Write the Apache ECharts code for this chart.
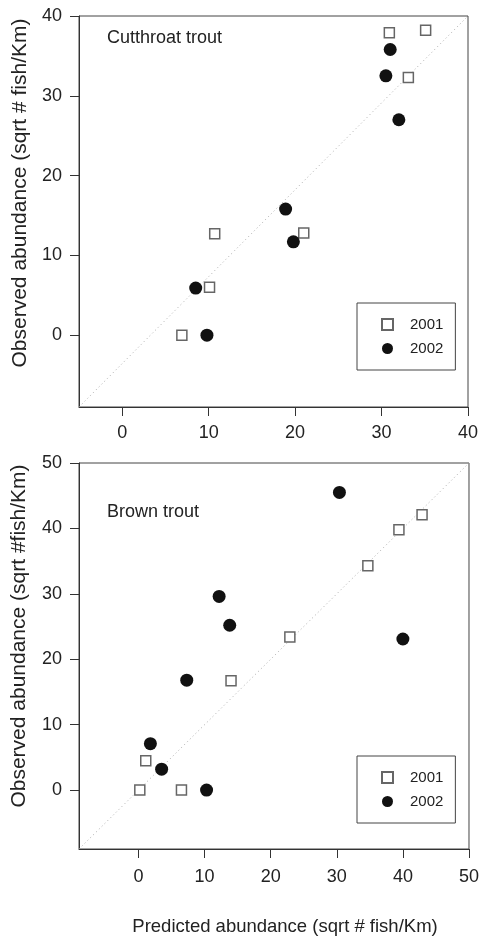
<!DOCTYPE html>
<html>
<head>
<meta charset="utf-8">
<script src="https://cdn.jsdelivr.net/npm/echarts@6/dist/echarts.min.js"></script>
<style>
  html, body { margin: 0; padding: 0; background: #fff; }
  #chart { width: 482px; height: 937px; }
</style>
</head>
<body>
<div id="chart"></div>
<script>
// ---- Data ----
const seriesNames = ['2001', '2002'];

// Cutthroat trout: [predicted, observed]
const cutthroat2001 = [[30.9, 37.9], [35.1, 38.2], [33.1, 32.3], [10.7, 12.7], [21.0, 12.8], [10.1, 6.0], [6.9, 0]];
const cutthroat2002 = [[31.0, 35.8], [30.5, 32.5], [32.0, 27.0], [18.9, 15.8], [19.8, 11.7], [8.5, 5.9], [9.8, 0]];
const cutthroatRef = [[-5, -9], [40, 40]];

// Brown trout: [predicted, observed]
const brown2001 = [[0.2, 0], [1.1, 4.5], [6.5, 0], [14.0, 16.7], [22.9, 23.4], [34.7, 34.3], [39.4, 39.8], [42.9, 42.1]];
const brown2002 = [[1.8, 7.1], [3.5, 3.2], [10.3, 0], [7.3, 16.8], [12.2, 29.6], [13.8, 25.2], [30.4, 45.5], [40.0, 23.1]];
const brownRef = [[-9, -9], [50, 50]];

const topXTicks = [0, 10, 20, 30, 40];
const topYTicks = [0, 10, 20, 30, 40];
const botXTicks = [0, 10, 20, 30, 40, 50];
const botYTicks = [0, 10, 20, 30, 40, 50];

const panelTitles = ['Cutthroat trout', 'Brown trout'];
const yTitles = ['Observed abundance (sqrt # fish/Km)', 'Observed abundance (sqrt #fish/Km)'];
const xTitle = 'Predicted abundance (sqrt # fish/Km)';

// ---- Styling ----
const FONT = '"Liberation Sans", Arial, Helvetica, sans-serif';
const TXT = '#222';
const AX = '#333';

function valAxis(gridIndex, min, max, ticks, margin) {
  return {
    type: 'value', gridIndex, min, max,
    splitLine: { show: false },
    axisLine: { show: true, onZero: false, lineStyle: { color: AX, width: 1 } },
    axisTick: { show: true, inside: false, length: 9, customValues: ticks, lineStyle: { color: AX, width: 1 } },
    axisLabel: { customValues: ticks, fontSize: 18, color: TXT, fontFamily: FONT, margin }
  };
}

const squareStyle = { color: '#fff', borderColor: '#666', borderWidth: 1.5, opacity: 1 };
const circleStyle = { color: '#111', opacity: 1 };

function scatter(name, data, idx, isSquare) {
  return {
    name, type: 'scatter', xAxisIndex: idx, yAxisIndex: idx, data,
    symbol: isSquare ? 'rect' : 'circle',
    symbolSize: isSquare ? 10 : 13,
    itemStyle: isSquare ? squareStyle : circleStyle,
    z: 3
  };
}
function refLine(data, idx) {
  return {
    name: 'ref', type: 'line', xAxisIndex: idx, yAxisIndex: idx, data,
    symbol: 'none', silent: true,
    lineStyle: { color: '#aaa', width: 1, type: [1, 3] }, z: 1
  };
}
function legend(top) {
  return {
    data: seriesNames, orient: 'vertical', left: 357, top,
    width: 100,
    itemWidth: 11, itemHeight: 11, itemGap: 9,
    padding: [14, 12, 14, 24],
    borderColor: '#444', borderWidth: 1,
    textStyle: { fontSize: 15, color: TXT, fontFamily: FONT, padding: [0, 0, 0, 12] },
    selectedMode: false
  };
}

const chart = echarts.init(document.getElementById('chart'), null, { renderer: 'canvas' });
chart.setOption({
  backgroundColor: '#fff',
  animation: false,
  textStyle: { fontFamily: FONT },
  grid: [
    { left: 79, right: 14, top: 16, height: 391, show: true, borderColor: '#444', borderWidth: 1, backgroundColor: 'transparent' },
    { left: 79, right: 13, top: 463, height: 386, show: true, borderColor: '#444', borderWidth: 1, backgroundColor: 'transparent' }
  ],
  xAxis: [
    valAxis(0, -5, 40, topXTicks, 17),
    valAxis(1, -9, 50, botXTicks, 19)
  ],
  yAxis: [
    valAxis(0, -9, 40, topYTicks, 17),
    valAxis(1, -9, 50, botYTicks, 17)
  ],
  title: [
    { text: panelTitles[0], left: 107, top: 29, padding: 0, textStyle: { fontSize: 18, fontWeight: 'normal', color: TXT, fontFamily: FONT } },
    { text: panelTitles[1], left: 107, top: 503, padding: 0, textStyle: { fontSize: 18, fontWeight: 'normal', color: TXT, fontFamily: FONT } }
  ],
  legend: [legend(303), legend(756)],
  graphic: [
    { type: 'text', x: 20, y: 193, rotation: Math.PI / 2,
      style: { text: yTitles[0], fontSize: 21, fill: TXT, fontFamily: FONT, textAlign: 'center', textVerticalAlign: 'middle', align: 'center', verticalAlign: 'middle' } },
    { type: 'text', x: 19, y: 636, rotation: Math.PI / 2,
      style: { text: yTitles[1], fontSize: 21, fill: TXT, fontFamily: FONT, textAlign: 'center', textVerticalAlign: 'middle', align: 'center', verticalAlign: 'middle' } },
    { type: 'text', x: 285, y: 927,
      style: { text: xTitle, fontSize: 18.5, fill: TXT, fontFamily: FONT, textAlign: 'center', textVerticalAlign: 'middle', align: 'center', verticalAlign: 'middle' } }
  ],
  series: [
    refLine(cutthroatRef, 0),
    scatter(seriesNames[0], cutthroat2001, 0, true),
    scatter(seriesNames[1], cutthroat2002, 0, false),
    refLine(brownRef, 1),
    scatter(seriesNames[0], brown2001, 1, true),
    scatter(seriesNames[1], brown2002, 1, false)
  ]
});
</script>
</body>
</html>
